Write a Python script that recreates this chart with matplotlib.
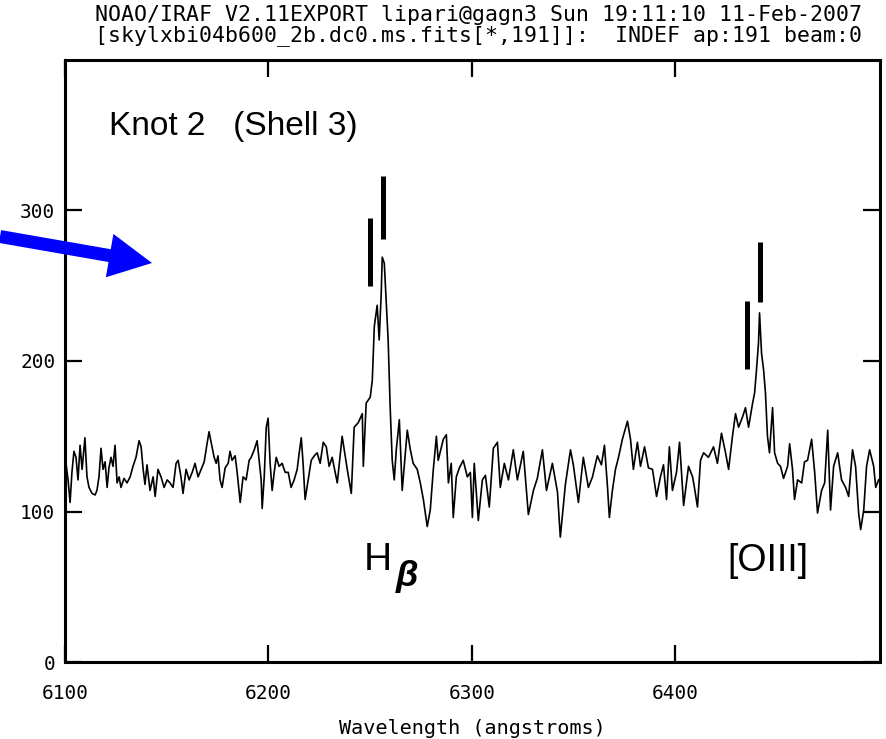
import numpy as np
import matplotlib.pyplot as plt
from matplotlib.patches import Polygon

# spectrum (angstroms, counts)
wave = [
    6100.5, 6101.5, 6102.5, 6103.4, 6104.4, 6105.4, 6106.4, 6107.4, 6108.4, 6109.8,
    6110.8, 6111.8, 6113.3, 6114.8, 6115.7, 6116.7, 6117.7, 6118.7, 6119.7, 6120.7,
    6121.6, 6122.6, 6123.6, 6124.6, 6125.6, 6126.6, 6127.5, 6129.0, 6130.5, 6132.0,
    6133.4, 6134.9, 6136.4, 6137.4, 6138.4, 6139.3, 6140.3, 6141.8, 6143.3, 6144.3,
    6145.7, 6147.2, 6148.7, 6150.2, 6151.6, 6153.1, 6154.6, 6155.6, 6157.0, 6158.0,
    6159.5, 6161.0, 6162.5, 6163.9, 6165.4, 6166.9, 6168.4, 6169.8, 6170.8, 6171.8,
    6173.3, 6174.3, 6175.2, 6176.2, 6177.2, 6178.7, 6180.2, 6181.1, 6182.1, 6183.6,
    6184.6, 6186.1, 6187.5, 6189.0, 6190.5, 6191.5, 6193.0, 6194.4, 6195.4, 6196.4,
    6196.9, 6197.9, 6198.9, 6199.8, 6200.8, 6201.8, 6202.8, 6203.8, 6205.2, 6206.7,
    6208.2, 6209.7, 6211.1, 6212.6, 6214.1, 6215.1, 6216.1, 6217.0, 6218.0, 6219.5,
    6221.0, 6222.5, 6223.9, 6225.4, 6226.9, 6228.4, 6229.8, 6231.3, 6232.8, 6233.8,
    6236.2, 6238.7, 6240.7, 6242.1, 6244.1, 6246.1, 6246.6, 6248.0, 6250.0, 6251.0,
    6252.0, 6253.4, 6254.4, 6255.4, 6255.9, 6256.9, 6257.9, 6258.8, 6259.8, 6260.8,
    6261.8, 6262.8, 6264.3, 6265.7, 6266.7, 6268.2, 6269.7, 6271.1, 6273.1, 6274.6,
    6276.1, 6278.0, 6279.5, 6281.0, 6282.5, 6283.4, 6285.9, 6287.4, 6288.4, 6289.8,
    6290.8, 6292.3, 6293.8, 6295.7, 6297.7, 6299.2, 6300.2, 6301.1, 6303.1, 6305.1,
    6306.6, 6308.5, 6310.5, 6312.5, 6313.9, 6315.9, 6317.9, 6320.3, 6322.3, 6325.2,
    6327.7, 6330.2, 6332.1, 6334.6, 6336.6, 6339.5, 6342.0, 6343.4, 6345.9, 6348.4,
    6349.8, 6352.3, 6354.7, 6357.2, 6359.2, 6361.6, 6363.6, 6365.1, 6366.6, 6367.5,
    6369.0, 6370.5, 6372.0, 6373.9, 6376.4, 6377.9, 6379.3, 6381.3, 6382.8, 6384.8,
    6386.7, 6388.7, 6390.7, 6392.6, 6394.1, 6395.6, 6397.0, 6398.5, 6400.5, 6402.0,
    6404.0, 6406.4, 6408.4, 6409.3, 6410.8, 6412.3, 6413.8, 6416.2, 6418.7, 6420.6,
    6422.6, 6424.6, 6426.1, 6428.0, 6429.5, 6431.0, 6433.0, 6434.4, 6435.9, 6437.9,
    6438.9, 6439.8, 6440.8, 6441.3, 6442.3, 6443.3, 6444.2, 6445.2, 6446.2, 6447.7,
    6448.7, 6450.2, 6451.6, 6453.1, 6455.1, 6456.1, 6457.5, 6458.5, 6460.0, 6462.0,
    6463.4, 6464.9, 6466.9, 6468.4, 6469.8, 6471.8, 6473.3, 6474.8, 6476.2, 6477.7,
    6479.7, 6481.6, 6483.6, 6485.1, 6487.0, 6488.5, 6490.0, 6491.0, 6492.5, 6493.9,
    6495.4, 6497.4, 6498.4, 6499.8,
]
flux = [
    132, 121, 106, 126, 140, 136, 121, 144, 128, 149,
    123, 116, 112, 111, 114, 123, 142, 128, 133, 116,
    129, 136, 130, 144, 119, 123, 116, 122, 119, 123,
    130, 136, 147, 143, 128, 118, 131, 114, 123, 110,
    128, 123, 116, 121, 119, 116, 132, 134, 123, 112,
    128, 121, 126, 132, 123, 128, 133, 145, 153, 146,
    136, 132, 137, 121, 116, 129, 132, 140, 134, 137,
    126, 106, 123, 121, 134, 136, 141, 147, 134, 121,
    102, 123, 156, 162, 132, 114, 126, 136, 130, 132,
    126, 126, 116, 121, 128, 139, 149, 132, 108, 121,
    134, 137, 139, 132, 146, 143, 130, 136, 126, 119,
    150, 128, 112, 156, 159, 165, 130, 172, 176, 187,
    223, 237, 214, 245, 269, 265, 238, 214, 169, 134,
    121, 141, 161, 114, 130, 154, 141, 132, 128, 119,
    108, 90, 101, 128, 150, 134, 148, 151, 119, 132,
    96, 123, 129, 134, 123, 126, 96, 132, 94, 121,
    124, 103, 142, 146, 116, 132, 121, 141, 121, 140,
    98, 114, 122, 141, 114, 132, 113, 83, 118, 141,
    131, 106, 136, 116, 123, 137, 131, 144, 116, 96,
    114, 128, 136, 148, 160, 148, 128, 146, 130, 143,
    129, 128, 110, 123, 131, 108, 143, 114, 126, 146,
    104, 130, 123, 116, 103, 134, 139, 136, 143, 132,
    152, 139, 128, 150, 165, 156, 163, 169, 156, 172,
    179, 194, 212, 232, 205, 194, 179, 150, 139, 169,
    139, 132, 130, 122, 130, 145, 128, 108, 121, 119,
    133, 134, 148, 126, 99, 114, 119, 154, 101, 130,
    139, 121, 116, 110, 141, 130, 99, 88, 101, 130,
    141, 130, 116, 121,
]

# line identification bars: wavelength, bottom, top
hb_wave = [6250.0, 6256.4]
hb_lo = [250, 281]
hb_hi = [295, 323]
oiii_wave = [6434.9, 6441.3]
oiii_lo = [195, 239]
oiii_hi = [240, 279]

xticks = [6100, 6200, 6300, 6400]
yticks = [0, 100, 200, 300]

header1 = "NOAO/IRAF V2.11EXPORT lipari@gagn3 Sun 19:11:10 11-Feb-2007"
header2 = "[skylxbi04b600_2b.dc0.ms.fits[*,191]]:  INDEF ap:191 beam:0"

W, H = 886, 739
fig = plt.figure(figsize=(W / 100, H / 100), dpi=100)
ax = fig.add_axes([65 / W, 1 - 662 / H, 815 / W, 602 / H])

ax.plot(wave, flux, color='black', lw=1.2)
ax.vlines(hb_wave, hb_lo, hb_hi, color='black', lw=3.6)
ax.vlines(oiii_wave, oiii_lo, oiii_hi, color='black', lw=3.6)

ax.set_xlim(6100, 6500.5)
ax.set_ylim(0, 400)
ax.set_xticks(xticks)
ax.set_yticks(yticks)

mono = 'DejaVu Sans Mono'
ax.tick_params(direction='in', length=12, width=1.6, top=True, right=True)
ax.tick_params(axis='x', pad=16)
ax.tick_params(axis='y', pad=7)
for lab in ax.get_xticklabels() + ax.get_yticklabels():
    lab.set_family(mono)
    lab.set_fontsize(14)
for sp in ax.spines.values():
    sp.set_linewidth(2.2)

ax.set_xlabel('Wavelength (angstroms)', family=mono, fontsize=14.5, labelpad=11)

fig.text(0.54, 1 - 15 / H, header1, family=mono, fontsize=15.5, ha='center', va='center')
fig.text(0.54, 1 - 36 / H, header2, family=mono, fontsize=15.5, ha='center', va='center')

sans = 'Liberation Sans'
ax.text(6121.5, 356, 'Knot 2   (Shell 3)', family=sans, fontsize=24, va='center')
ax.text(6247, 68, 'H', family=sans, fontsize=28, va='center')
ax.text(6262.5, 57, 'β', family=sans, fontsize=26, style='italic', weight='bold', va='center')
ax.text(6425.5, 67, '[OIII]', family=sans, fontsize=27, va='center')

# blue pointer arrow (figure pixels, origin top-left)
tail = np.array([0.0, 236.5])
tip = np.array([152.0, 263.0])
d = (tip - tail) / np.linalg.norm(tip - tail)
n = np.array([-d[1], d[0]])
head_len, head_w, shaft_w = 43.0, 44.0, 13.0
base = tip - d * head_len
pts = [tail + n * shaft_w / 2, base + n * shaft_w / 2, base + n * head_w / 2, tip,
       base - n * head_w / 2, base - n * shaft_w / 2, tail - n * shaft_w / 2]
pts = [(p[0] / W, 1 - p[1] / H) for p in pts]
fig.add_artist(Polygon(pts, closed=True, facecolor='#0000ff', edgecolor='none',
                       transform=fig.transFigure, clip_on=False))

fig.savefig('out.png', dpi=100)
